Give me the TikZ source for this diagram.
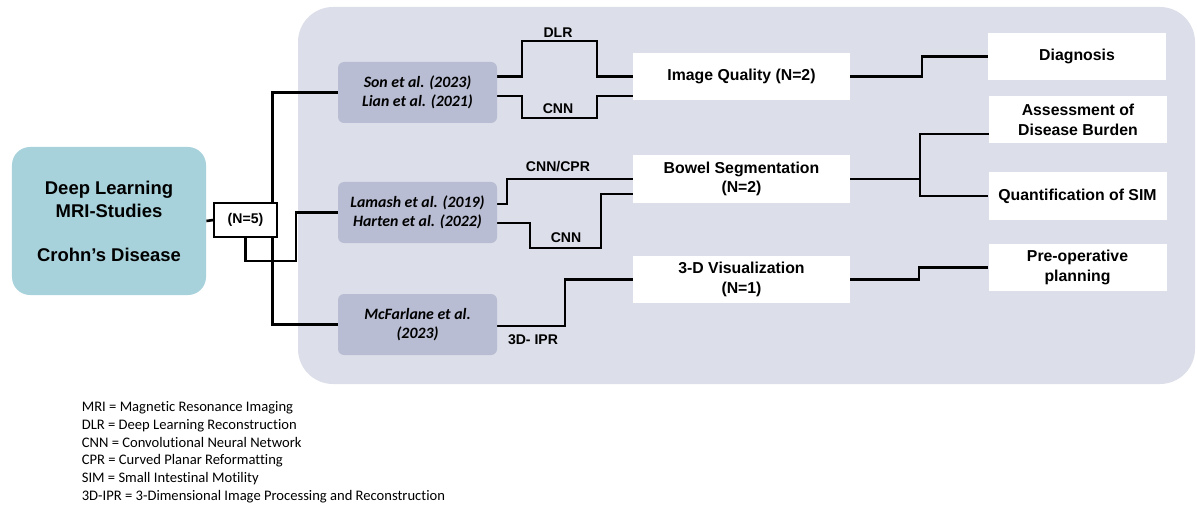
\documentclass[tikz,border=0pt]{standalone}
\usepackage{fontspec}
\setmainfont{Liberation Sans}
\newfontfamily\calfont[Ligatures={NoCommon}]{Carlito}
\definecolor{panelgray}{RGB}{220,222,233}
\definecolor{studyfill}{RGB}{184,189,211}
\definecolor{crohnteal}{RGB}{168,210,219}
\pgfdeclarelayer{back}
\pgfdeclarelayer{wires}
\pgfsetlayers{back,wires,main}

\begin{document}
\begin{tikzpicture}[x=0.2mm,y=-0.2mm,
		wire/.style={line width=1.5pt},
		study/.style={fill=studyfill, rounded corners=1.2mm, minimum width=31.8mm, minimum height=12.2mm, align=center, font=\calfont\bfseries\itshape\fontsize{9}{10.8}\selectfont},
		topic/.style={fill=white, minimum width=43.4mm, minimum height=9.4mm, align=center, font=\bfseries\fontsize{9}{11}\selectfont},
		goal/.style={fill=white, minimum width=35.6mm, minimum height=9.4mm, align=center, font=\bfseries\fontsize{9}{11}\selectfont},
		lbl/.style={font=\bfseries\fontsize{8}{9.6}\selectfont, inner sep=0pt}]
		\useasboundingbox (0,0) rectangle (1197,506);

		\begin{pgfonlayer}{back}
			\fill[panelgray, rounded corners=7mm] (298,7) rectangle (1195,384);
		\end{pgfonlayer}

		\node[fill=crohnteal, rounded corners=3.6mm, minimum width=38.8mm, minimum height=29.6mm, align=center, font=\bfseries\fontsize{10.5}{13.3}\selectfont] at (109,221)(dl){Deep Learning\\MRI-Studies\\[11.5pt]Crohn’s Disease};
		\node[draw, line width=0.6pt, fill=white, minimum width=12.6mm, minimum height=6.8mm, font=\bfseries\fontsize{8}{9.6}\selectfont] at (245.5,220)(n5){(N=5)};

		\node[study] at (417.5,92.5)(son){Son et al. (2023)\\Lian et al. (2021)};
		\node[study] at (417.5,212.5)(lam){Lamash et al. (2019)\\Harten et al. (2022)};
		\node[study] at (417.5,324.5)(mcf){McFarlane et al.\\(2023)};

		\node[topic] at (741.5,76.5)(iq){Image Quality (N=2)};
		\node[topic] at (741.5,179)(bs){Bowel Segmentation\\(N=2)};
		\node[topic] at (741.5,279.5)(vis){3-D Visualization\\(N=1)};

		\node[goal] at (1077,56.5)(diag){Diagnosis};
		\node[goal] at (1078,120)(asm){Assessment of\\Disease Burden};
		\node[goal] at (1077.5,196)(qsim){Quantification of SIM};
		\node[goal] at (1077.5,267.5)(pre){Pre-operative\\planning};

		\node[lbl] at (558,33)(dlr){DLR};
		\node[lbl] at (558,109)(cnna){CNN};
		\node[lbl] at (558,167)(cpr){CNN/CPR};
		\node[lbl] at (566,238)(cnnb){CNN};
		\node[lbl] at (533,340)(ipr){3D- IPR};

		\begin{pgfonlayer}{wires}
			\draw[wire] (dl.east) -- (n5.west);
			\draw[wire] (son.west) -| ([xshift=-1mm]n5.east) |- (mcf.west);
			\draw[wire] (n5.south) |- (296,261) |- (lam.west);
			\draw[wire] (son.east|-iq.west) -| (522,41) -| (597,76.5) -- (iq.west);
			\draw[wire] (son.east|-0,96) -| (522,118) -| (597,96) -- (iq.west|-0,96);
			\draw[wire] (lam.east|-0,204) -| (507,179) -- (bs.west);
			\draw[wire] (lam.east|-0,223) -| (530,248) -| (601,194) -- (bs.west|-0,194);
			\draw[wire] (mcf.east|-0,326) -| (565,279.5) -- (vis.west);
			\draw[wire] (iq.east) -| (922,56.5) -- (diag.west);
			\draw[wire] (bs.east) -- (bs.east-|920,0);
			\draw[wire] (asm.west|-0,134) -| (920,196) -- (qsim.west);
			\draw[wire] (vis.east) -| (919,267.5) -- (pre.west);
		\end{pgfonlayer}

		\node[anchor=north west, align=left, inner sep=0pt, font=\calfont\fontsize{8.3}{10.15}\selectfont] at (81.5,401)(legend){MRI = Magnetic Resonance Imaging\\
			DLR = Deep Learning Reconstruction\\
			CNN = Convolutional Neural Network\\
			CPR = Curved Planar Reformatting\\
			SIM = Small Intestinal Motility\\
			3D-IPR = 3-Dimensional Image Processing and Reconstruction};
	\end{tikzpicture}
\end{document}
